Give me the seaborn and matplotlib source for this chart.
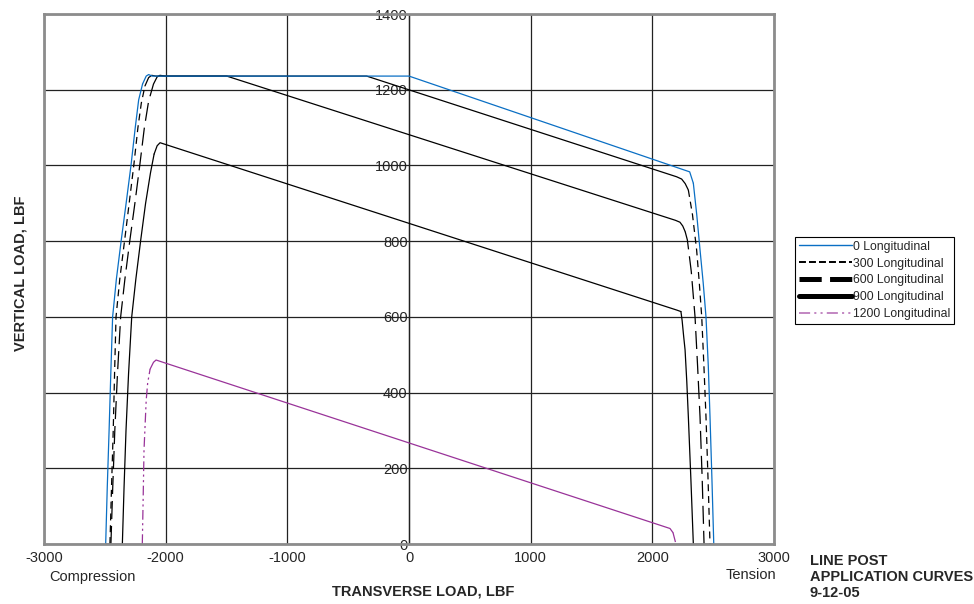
import matplotlib
matplotlib.use("Agg")
import matplotlib.pyplot as plt
from matplotlib.lines import Line2D
import seaborn as sns

# transverse load (lbf) vs vertical load (lbf)
x_0 = [-2500, -2493, -2480, -2465, -2451, -2436, -2405, -2365, -2325, -2285, -2250,
       -2222, -2190, -2160, -2140, -2110, 0,
       2307, 2337, 2365, 2392, 2418, 2441, 2460, 2474, 2490, 2505]
y_0 = [0, 0, 150, 300, 450, 600, 700, 803, 900, 1000, 1100,
       1173, 1215, 1236, 1240, 1236, 1236,
       983, 953, 870, 777, 690, 600, 470, 336, 170, 0]

x_300 = [-2500, -2458, -2445, -2431, -2420, -2408, -2377, -2337, -2300, -2262, -2228,
         -2200, -2170, -2140, -2115, -2080, -348,
         2200, 2241, 2270, 2296, 2330, 2364, 2386, 2406, 2424, 2441, 2458, 2474, 2500]
y_300 = [0, 0, 150, 300, 450, 600, 700, 803, 900, 1000, 1100,
         1165, 1210, 1232, 1238, 1236, 1236,
         970, 964, 952, 935, 870, 777, 690, 600, 470, 336, 170, 0, 0]

x_600 = [-2500, -2450, -2435, -2418, -2396, -2370, -2335, -2294, -2253, -2213, -2175,
         -2140, -2100, -2070, -2047, -2000, -1498,
         2190, 2227, 2250, 2270, 2288, 2320, 2351, 2372, 2392, 2410, 2425, 2500]
y_600 = [0, 0, 150, 300, 450, 600, 700, 803, 900, 1000, 1100,
         1170, 1215, 1234, 1238, 1236, 1236,
         855, 850, 840, 825, 803, 720, 600, 470, 336, 170, 0, 0]

x_900 = [-2500, -2356, -2342, -2326, -2305, -2279, -2245, -2205, -2165, -2125, -2095,
         -2070, -2046,
         2200, 2235, 2245, 2257, 2269, 2283, 2296, 2317, 2337, 2500]
y_900 = [0, 0, 150, 300, 450, 600, 700, 803, 900, 980, 1030,
         1052, 1060,
         618, 614, 590, 550, 513, 430, 336, 170, 0, 0]

x_1200 = [-2500, -2192, -2185, -2178, -2160, -2148, -2128, -2100, -2079,
          2145, 2170, 2194, 2500]
y_1200 = [0, 0, 120, 248, 380, 425, 462, 480, 486,
          41, 30, 0, 0]

labels = ["0 Longitudinal", "300 Longitudinal", "600 Longitudinal",
          "900 Longitudinal", "1200 Longitudinal"]
x_ticks = [-3000, -2000, -1000, 0, 1000, 2000, 3000]
y_ticks = [0, 200, 400, 600, 800, 1000, 1200, 1400]

BLUE = "#0a6fc4"
PURPLE = "#993399"

sns.set_style("white")
plt.rcParams["font.family"] = ["Liberation Sans", "DejaVu Sans"]
plt.rcParams["axes.unicode_minus"] = False
plt.rcParams["lines.scale_dashes"] = False

fig = plt.figure(figsize=(9.74, 6.04), dpi=100)
ax = fig.add_axes([44 / 974, 60 / 604, 730 / 974, 530 / 604])


def draw_curve(xs, ys, color, steep_ls, lw=0.9):
    # steep parts (rise / drop) show the dash pattern, the long slopes look solid
    steep = [abs(ys[i + 1] - ys[i]) > abs(xs[i + 1] - xs[i]) for i in range(len(xs) - 1)]
    start = 0
    for i in range(1, len(steep) + 1):
        if i == len(steep) or steep[i] != steep[start]:
            ls = steep_ls if steep[start] else "-"
            sns.lineplot(x=xs[start:i + 1], y=ys[start:i + 1], sort=False, estimator=None,
                         color=color, lw=lw, linestyle=ls, ax=ax)
            start = i


draw_curve(x_1200, y_1200, PURPLE, (0, (7, 2.5, 1.5, 2.5, 1.5, 2.5)))
draw_curve(x_900, y_900, "black", "-")
draw_curve(x_600, y_600, "black", (0, (13, 5)))
draw_curve(x_300, y_300, "black", (0, (5, 3.5)))
draw_curve(x_0, y_0, BLUE, "-")

ax.set_xlim(-3000, 3000)
ax.set_ylim(0, 1400)
ax.set_xticks(x_ticks)
ax.set_xticklabels([str(v) for v in x_ticks])
ax.set_yticks(y_ticks)
ax.tick_params(axis="y", labelleft=False, length=0)
ax.tick_params(axis="x", length=0, pad=5, labelsize=10.5)
ax.grid(True, color="#222222", lw=0.9)
ax.set_axisbelow(True)
for sp in ax.spines.values():
    sp.set_visible(True)
    sp.set_color("#8c8c8c")
    sp.set_linewidth(2)

# value axis sits on the x = 0 line
sec = ax.secondary_yaxis(0.5)
sec.set_alignment("left")
sec.set_yticks(y_ticks)
sec.set_yticklabels([str(v) for v in y_ticks])
sec.tick_params(length=0, pad=1, labelsize=10.5)
sec.spines["left"].set_color("black")
sec.spines["left"].set_linewidth(0.9)

handles = [
    Line2D([], [], color=BLUE, lw=1.0),
    Line2D([], [], color="black", lw=1.4, linestyle=(0, (5, 2.2))),
    Line2D([], [], color="black", lw=3.6, linestyle=(0, (16, 6))),
    Line2D([], [], color="black", lw=3.6),
    Line2D([], [], color="#b266b2", lw=1.1, linestyle=(0, (8, 3, 1.5, 3, 1.5, 3))),
]
leg = fig.legend(handles, labels, loc="upper left",
                 bbox_to_anchor=(795 / 974, 1 - 237 / 604), bbox_transform=fig.transFigure,
                 fontsize=8.8, handlelength=4.4, handletextpad=0.05, borderpad=0.3,
                 labelspacing=0.4, frameon=True, fancybox=False, framealpha=1,
                 edgecolor="black", borderaxespad=0)
leg.get_frame().set_linewidth(0.8)

fig.text(423 / 974, 1 - 592 / 604, "TRANSVERSE LOAD, LBF", ha="center", va="center",
         fontsize=10.5, fontweight="bold")
fig.text(21 / 974, 1 - 273 / 604, "VERTICAL LOAD, LBF", ha="center", va="center",
         rotation=90, fontsize=10.5, fontweight="bold")
fig.text(49 / 974, 1 - 577 / 604, "Compression", ha="left", va="center", fontsize=10.5)
fig.text(776 / 974, 1 - 575 / 604, "Tension", ha="right", va="center", fontsize=10.5)
fig.text(810 / 974, 1 - 554 / 604, "LINE POST\nAPPLICATION CURVES\n9-12-05", ha="left",
         va="top", fontsize=10.5, fontweight="bold", linespacing=1.18)

fig.savefig("out.png", dpi=100)
